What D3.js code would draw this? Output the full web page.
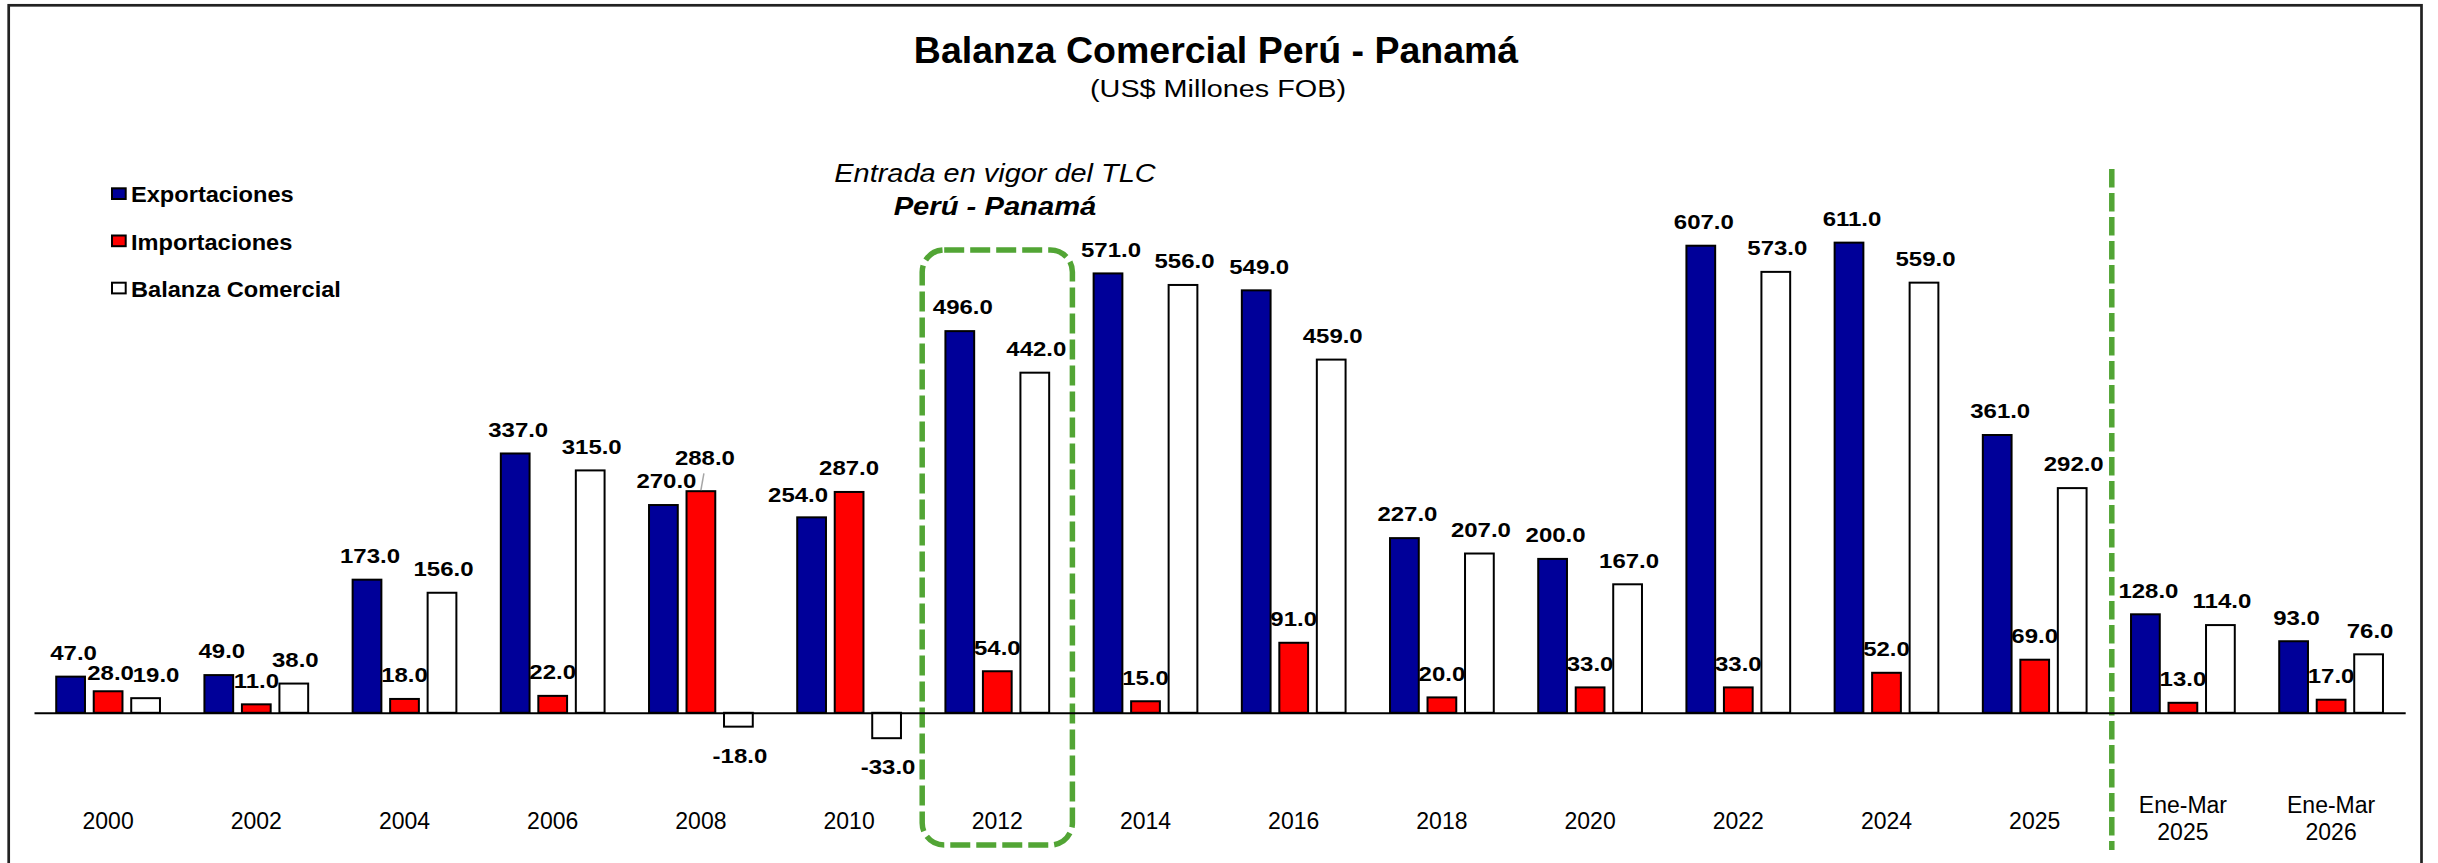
<!DOCTYPE html>
<html lang="es">
<head>
<meta charset="UTF-8">
<title>Balanza Comercial Perú - Panamá</title>
<script src="https://cdn.jsdelivr.net/npm/d3@7"></script>
<style>
    body { margin: 0; background: #fff; }
    svg { display: block; font-family: "Liberation Sans", Arial, sans-serif; }
    .bar { stroke: #000; stroke-width: 2px; }
    .lbl { font-weight: bold; font-size: 20.5px; fill: #000; }
    .tick text { font-size: 23px; fill: #000; }
</style>
</head>
<body>
<svg width="2438" height="863"></svg>
<script>
    // datos (US$ millones FOB)
    const categories = ["2000", "2002", "2004", "2006", "2008", "2010", "2012", "2014", "2016",
        "2018", "2020", "2022", "2024", "2025", "Ene-Mar 2025", "Ene-Mar 2026"];
    const exportaciones = [47, 49, 173, 337, 270, 254, 496, 571, 549, 227, 200, 607, 611, 361, 128, 93];
    const importaciones = [28, 11, 18, 22, 288, 287, 54, 15, 91, 20, 33, 33, 52, 69, 13, 17];
    const balanza = [19, 38, 156, 315, -18, -33, 442, 556, 459, 207, 167, 573, 559, 292, 114, 76];

    const series = [
        {key: "exp", name: "Exportaciones", color: "#000099", values: exportaciones, dx: 3},
        {key: "imp", name: "Importaciones", color: "#ff0000", values: importaciones, dx: 0},
        {key: "bal", name: "Balanza Comercial", color: "#ffffff", values: balanza, dx: 1.5}
    ];

    // etiquetas movidas a mano en el original
    const labelNudge = {
        "2000|imp": [2.5, 5.3],
        "2000|bal": [9, 0.7],
        "2008|imp": [4, -9.2],
        "2010|exp": [-16.5, 1.5]
    };

    const svg = d3.select("svg");
    const green = "#52a535";

    function stretch(sel, x, y, sx) {
        sel.attr("transform", "translate(" + x + "," + y + ") scale(" + sx + ",1)");
    }

    const x = d3.scaleBand().domain(categories).range([34, 2405.2]).padding(0);
    const xs = d3.scaleBand().domain(series.map(d => d.key))
        .range([0, x.bandwidth()]).paddingInner(0.18).paddingOuter(0.566);
    const y = d3.scaleLinear().domain([-100, 700]).range([789.75, 174.15]);

    // marco
    svg.append("rect")
        .attr("x", 8.7).attr("y", 5.3)
        .attr("width", 2412.8).attr("height", 900)
        .attr("fill", "none").attr("stroke", "#222").attr("stroke-width", 2.7);

    // titulo
    svg.append("text").text("Balanza Comercial Perú - Panamá")
        .attr("text-anchor", "middle").attr("font-weight", "bold").attr("font-size", "37.5px")
        .call(stretch, 1216, 63.3, 1.0);
    svg.append("text").text("(US$ Millones FOB)")
        .attr("text-anchor", "middle").attr("font-size", "24px")
        .call(stretch, 1218, 96.7, 1.2);

    // recuadro TLC
    svg.append("rect")
        .attr("x", x("2012") - 1).attr("y", 250)
        .attr("width", x.bandwidth() + 2).attr("height", 595)
        .attr("rx", 22).attr("ry", 22)
        .attr("fill", "none").attr("stroke", green).attr("stroke-width", 5.5)
        .attr("stroke-dasharray", "20 6");

    svg.append("text").text("Entrada en vigor del TLC")
        .attr("text-anchor", "middle").attr("font-style", "italic").attr("font-size", "25.6px")
        .call(stretch, 995, 181.7, 1.13);
    svg.append("text").text("Perú - Panamá")
        .attr("text-anchor", "middle").attr("font-style", "italic").attr("font-weight", "bold")
        .attr("font-size", "25.6px")
        .call(stretch, 995, 215, 1.14);

    // linea vertical antes de los periodos parciales
    const xSep = x("Ene-Mar 2025") + 3;
    svg.append("line")
        .attr("x1", xSep).attr("x2", xSep).attr("y1", 169).attr("y2", 850)
        .attr("stroke", green).attr("stroke-width", 5.5)
        .attr("stroke-dasharray", "18.5 5.5");

    // barras
    const groups = svg.selectAll(".grp")
        .data(categories)
        .enter().append("g")
        .attr("class", "grp")
        .attr("transform", d => "translate(" + x(d) + ",0)");

    groups.selectAll("rect")
        .data((c, i) => series.map(s => ({cat: c, s: s, v: s.values[i]})))
        .enter().append("rect")
        .attr("class", "bar")
        .attr("x", d => xs(d.s.key) + 1)
        .attr("width", xs.bandwidth() - 2)
        .attr("y", d => d.v >= 0 ? y(d.v) : y(0))
        .attr("height", d => Math.abs(y(d.v) - y(0)))
        .attr("fill", d => d.s.color);

    // eje
    const axis = d3.axisBottom(x).tickSize(0).tickPadding(100);
    const gx = svg.append("g")
        .attr("transform", "translate(0," + y(0) + ")")
        .call(axis);
    gx.select(".domain").attr("stroke", "#000").attr("stroke-width", 2);
    gx.selectAll(".tick text")
        .attr("font-family", "Liberation Sans, Arial, sans-serif")
        .each(function (d) {
            const parts = d.split(" ");
            if (parts.length > 1) {
                const t = d3.select(this).text(null);
                parts.forEach((p, k) => {
                    t.append("tspan").attr("x", 0).attr("dy", k === 0 ? "0" : "1.2em").text(p);
                });
            }
        });

    // etiquetas de datos
    groups.each(function (c, i) {
        const g = d3.select(this);
        series.forEach(s => {
            const v = s.values[i];
            const nudge = labelNudge[c + "|" + s.key] || [0, 0];
            const cx = xs(s.key) + xs.bandwidth() / 2 + s.dx + nudge[0];
            const cy = (v >= 0 ? y(v) - 16.7 : y(v) + 36) + nudge[1];
            g.append("text").attr("class", "lbl")
                .attr("text-anchor", "middle")
                .text(v.toFixed(1))
                .call(stretch, cx, cy, 1.17);
            if (c === "2008" && s.key === "imp") {
                const bx = xs(s.key) + xs.bandwidth() / 2;
                g.append("line")
                    .attr("x1", cx - 1).attr("y1", cy + 8)
                    .attr("x2", bx).attr("y2", y(v) - 1)
                    .attr("stroke", "#a6a6a6").attr("stroke-width", 1.5);
            }
        });
    });

    // leyenda
    const legend = svg.append("g").attr("transform", "translate(112,188.3)");
    const li = legend.selectAll("g")
        .data(series)
        .enter().append("g")
        .attr("transform", (d, i) => "translate(0," + i * 47.2 + ")");
    li.append("rect")
        .attr("width", 13.7).attr("height", 10.7)
        .attr("fill", d => d.color).attr("stroke", "#000").attr("stroke-width", 2);
    li.append("text")
        .text(d => d.name)
        .attr("font-weight", "bold").attr("font-size", "22.5px")
        .call(stretch, 19, 14, 1.05);
</script>
</body>
</html>
